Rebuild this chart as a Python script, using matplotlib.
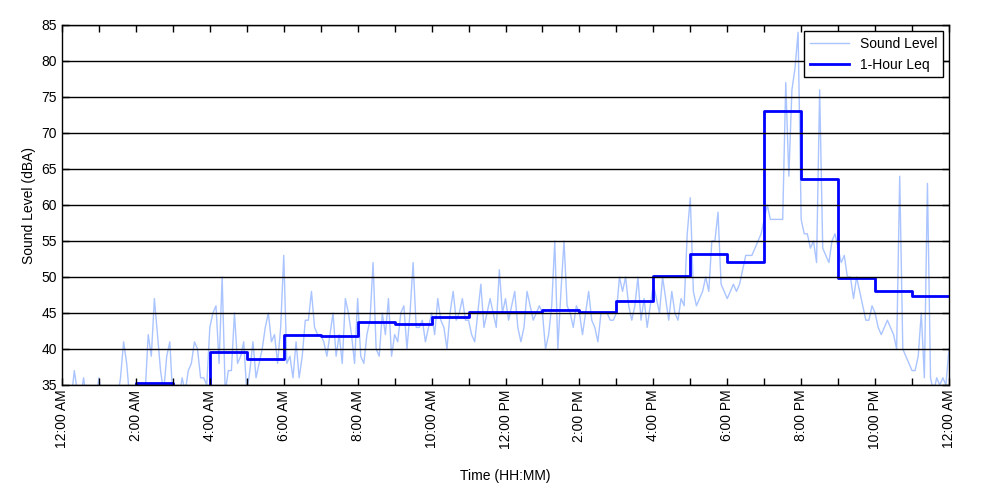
import numpy as np
import matplotlib
matplotlib.use('Agg')
from matplotlib import pyplot as plt

# sound level, one value every 5 minutes (values < 35 are off-scale)
level_by_hour = [
    [33, 33, 33, 33, 37, 34, 33, 36, 33, 33, 33, 33],
    [36, 33, 33, 33, 33, 33, 33, 36, 41, 38, 33, 33],
    [33, 33, 33, 34, 42, 39, 47, 42, 37, 34, 39, 41],
    [33, 33, 33, 36, 34, 37, 38, 41, 40, 36, 36, 35],
    [43, 45, 46, 38, 50, 34, 37, 37, 45, 38, 39, 41],
    [34, 37, 41, 36, 38, 40, 43, 45, 41, 42, 38, 43],
    [53, 38, 39, 36, 41, 36, 39, 44, 44, 48, 43, 42],
    [42, 41, 39, 42, 45, 39, 42, 38, 47, 45, 42, 38],
    [47, 39, 38, 42, 44, 52, 40, 39, 45, 42, 47, 39],
    [42, 41, 45, 46, 40, 45, 52, 43, 43, 44, 41, 43],
    [45, 42, 47, 44, 43, 40, 45, 48, 44, 45, 47, 44],
    [44, 42, 41, 45, 49, 43, 45, 47, 45, 43, 51, 45],
    [47, 44, 46, 48, 43, 41, 43, 48, 46, 44, 45, 46],
    [45, 40, 42, 46, 55, 40, 48, 55, 46, 45, 43, 46],
    [45, 42, 45, 48, 44, 43, 41, 45, 45, 45, 44, 44],
    [45, 50, 48, 50, 46, 44, 46, 50, 44, 47, 43, 46],
    [49, 47, 45, 50, 47, 44, 48, 45, 44, 47, 46, 56],
    [61, 48, 46, 47, 48, 50, 48, 55, 55, 59, 49, 48],
    [47, 48, 49, 48, 49, 51, 53, 53, 53, 54, 55, 56],
    [58, 60, 58, 58, 58, 58, 58, 77, 64, 76, 79, 84],
    [58, 56, 56, 54, 55, 52, 76, 54, 53, 52, 55, 56],
    [54, 52, 53, 50, 50, 47, 50, 48, 46, 44, 44, 46],
    [45, 43, 42, 43, 44, 43, 42, 40, 64, 40, 39, 38],
    [37, 37, 39, 45, 36, 63, 36, 34, 36, 35, 36, 35],
]
level_end = 40

# 1-hour Leq per hour (hours below 35 dBA are off-scale)
leq_hours = np.arange(0, 25)
leq = [31, 33, 35.3, 33, 39.6, 38.6, 41.9, 41.85, 43.75, 43.5, 44.5, 45.1,
       45.2, 45.4, 45.1, 46.7, 50.1, 53.2, 52.1, 73.1, 63.6, 49.9, 48.05, 47.4]

tick_labels = ['12:00 AM', '2:00 AM', '4:00 AM', '6:00 AM', '8:00 AM',
               '10:00 AM', '12:00 PM', '2:00 PM', '4:00 PM', '6:00 PM',
               '8:00 PM', '10:00 PM', '12:00 AM']

level = [v for hour in level_by_hour for v in hour] + [level_end]
t = np.arange(len(level)) / 12.0

plt.rcParams['font.family'] = ['Liberation Sans', 'DejaVu Sans']

fig = plt.figure(figsize=(10, 5), dpi=100)
ax = fig.add_axes([0.062, 0.23, 0.887, 0.72])

ax.plot(t, level, color='#aac4ff', lw=1.0, label='Sound Level')
ax.plot(leq_hours, leq + [leq[-1]], color='#0000ff', lw=2,
        drawstyle='steps-post', label='1-Hour Leq')

ax.set_xlim(0, 24)
ax.set_ylim(35, 85)
ax.set_yticks(range(35, 86, 5))
ax.set_xticks(range(0, 25))
ax.set_xticklabels([tick_labels[i // 2] if i % 2 == 0 else '' for i in range(25)],
                   rotation=90, fontsize=10)
ax.tick_params(axis='y', labelsize=10)
ax.tick_params(direction='in', length=5, width=1, top=True, right=True, color='black')
ax.grid(axis='y', color='black', lw=1)
ax.set_axisbelow(False)
for s in ax.spines.values():
    s.set_linewidth(1)

ax.set_xlabel('Time (HH:MM)', fontsize=10, labelpad=14)
ax.set_ylabel('Sound Level (dBA)', fontsize=10)

leg = ax.legend(loc='upper right', fontsize=10, fancybox=False, framealpha=1,
                edgecolor='black', borderaxespad=0.45, handlelength=2.8)
leg.get_frame().set_linewidth(1)

fig.savefig('out.png', dpi=100)
